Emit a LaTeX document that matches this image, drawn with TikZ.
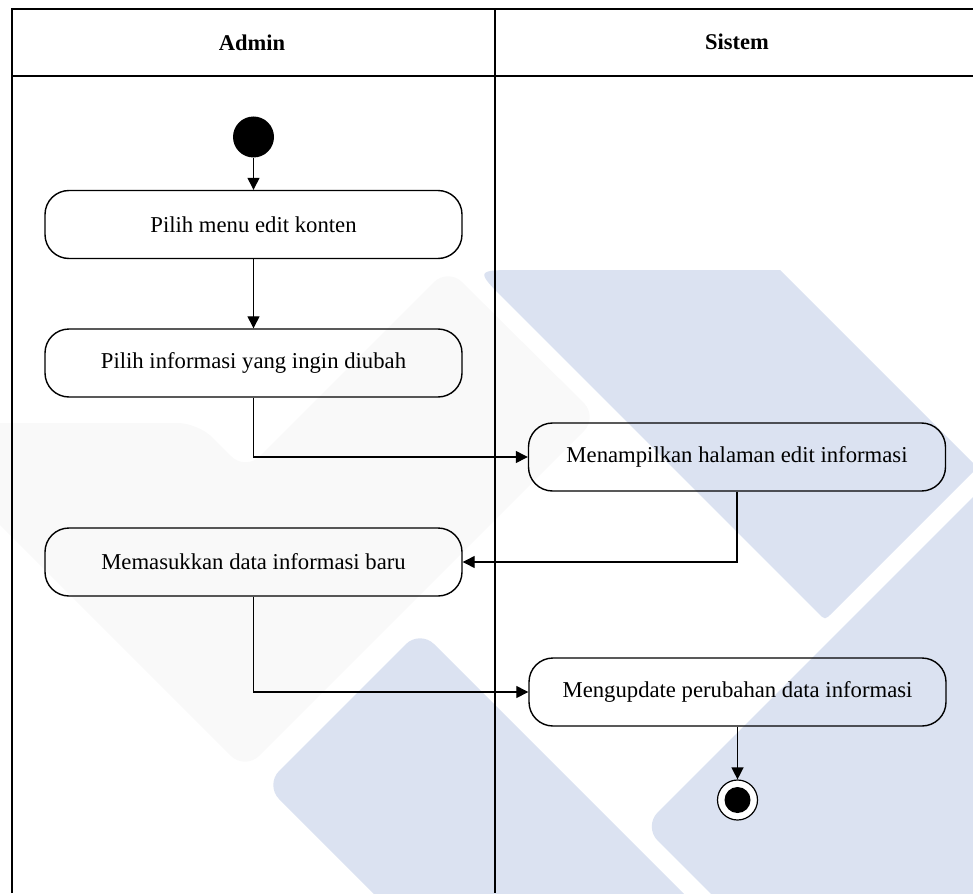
\documentclass[tikz,border=0pt]{standalone}
\usepackage{fontspec}
\setmainfont{Liberation Serif}
\usetikzlibrary{arrows.meta}
\definecolor{wmblue}{RGB}{219,226,241}
\definecolor{wmgrey}{RGB}{249,249,249}
\begin{document}
\begin{tikzpicture}[x=1pt,y=-1pt,
  act/.style={draw, line width=1.4pt, rounded corners=24pt, minimum width=417pt, minimum height=68pt, inner sep=0pt, font=\fontsize{22.7}{27}\selectfont},
  lane/.style={font=\bfseries\fontsize{22.5}{27}\selectfont},
  flow/.style={line width=1.3pt, -{Triangle[length=12pt,width=12pt]}},
  frameline/.style={line width=2pt}]
\useasboundingbox (0,0) rectangle (973,893);
% watermark
\begin{scope}
\clip (0,0) rectangle (973,893);
\fill[wmgrey, rounded corners=20pt] (-20,423) -- (198,423) -- (245.5,470.5) -- (448,268) -- (598,417) -- (245,770) -- (-20,505) -- cycle;
\fill[wmblue] (600,270) -- (780,270) -- (977.5,467.5) -- (832,613) .. controls (825,620) .. (818,613) -- (506,301) .. controls (475,270) .. (520,270) -- cycle;
\fill[wmblue, rounded corners=20pt] (1100,370) -- (643.5,826.5) -- (1100,1283) -- cycle;
\fill[wmblue, rounded corners=20pt] (420,630) -- (890,1100) -- (580,1100) -- (265,785) -- cycle;
\end{scope}
% swimlane frame
\draw[frameline] (12,893) -- (12,9) -- (973,9);
\draw[frameline] (12,76) -- (973,76);
\draw[frameline] (495,9) -- (495,893);
\node[lane] (hAdmin) at (252,43) {Admin};
\node[lane] (hSistem) at (737,42) {Sistem};
% activities
\node[circle, fill=black, minimum size=41pt, inner sep=0pt] (start) at (253.5,137) {};
\node[act] (b1) at (253.5,224.5) {Pilih menu edit konten};
\node[act] (b2) at (253.5,363) {Pilih informasi yang ingin diubah};
\node[act] (b3) at (737,457) {Menampilkan halaman edit informasi};
\node[act] (b4) at (253.5,562) {Memasukkan data informasi baru};
\node[act] (b5) at (737.5,692) {Mengupdate perubahan data informasi};
\node[circle, draw, line width=1.2pt, fill=white, minimum size=40pt, inner sep=0pt] (end) at (737.5,800) {};
\node[circle, fill=black, minimum size=26pt, inner sep=0pt] (endDot) at (end.center) {};
% flows
\draw[flow] (start) -- (b1);
\draw[flow] (b1) -- (b2);
\draw[flow] (b2.south) |- (b3.west);
\draw[flow] (b3.south) |- (b4.east);
\draw[flow] (b4.south) |- (b5.west);
\draw[flow] (b5) -- (end);
\end{tikzpicture}
\end{document}
